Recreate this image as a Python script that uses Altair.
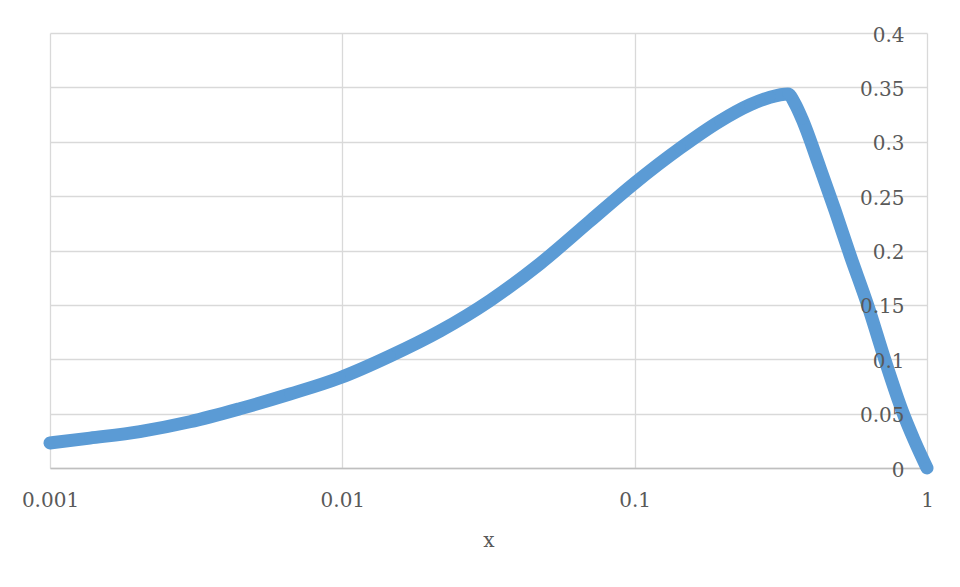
import altair as alt
import pandas as pd

# values
x_vals = [0.001, 0.00137, 0.00203, 0.00301, 0.00446, 0.00662, 0.00982, 0.01456, 0.02158,
          0.032, 0.0475, 0.0703, 0.1, 0.1429, 0.1958, 0.2481, 0.2904, 0.3345,
          0.3535, 0.3737, 0.4305, 0.4844, 0.5452, 0.6283, 0.7186, 0.8213, 0.9029, 1.0]
y_vals = [0.023, 0.0275, 0.0335, 0.0425, 0.0545, 0.068, 0.083, 0.103, 0.126,
          0.154, 0.188, 0.227, 0.262, 0.294, 0.319, 0.334, 0.341, 0.344,
          0.335, 0.321, 0.276, 0.237, 0.196, 0.149, 0.099, 0.053, 0.026, 0.0]
x_ticks = [0.001, 0.01, 0.1, 1]
y_ticks = [0, 0.05, 0.1, 0.15, 0.2, 0.25, 0.3, 0.35, 0.4]

df = pd.DataFrame({"x": x_vals, "y": y_vals})

FONT = "DejaVu Serif"
GRAY = "#595959"
BLUE = "#5b9bd5"
GRID = "#d9d9d9"

xs = alt.Scale(type="log", domain=[0.001, 1])
ys = alt.Scale(domain=[0, 0.4])

x_axis = alt.Axis(values=x_ticks, format="~g", grid=True, gridColor=GRID, gridWidth=1.3,
                  domainColor="#bfbfbf", domainWidth=1.3, ticks=False, labelPadding=22,
                  labelFont=FONT, labelFontSize=20, labelColor=GRAY, labelFlush=False,
                  titleFont=FONT, titleFontSize=20, titleFontWeight="normal",
                  titleColor=GRAY, titlePadding=20)

line = alt.Chart(df).mark_line(
    color=BLUE, strokeWidth=13, strokeCap="round", strokeJoin="round", interpolate="monotone"
).encode(
    x=alt.X("x:Q", scale=xs, title="x", axis=x_axis),
    y=alt.Y("y:Q", scale=ys, title=None,
            axis=alt.Axis(orient="left", values=y_ticks, grid=True, gridColor=GRID,
                          gridWidth=1.3, labels=False, ticks=False, domain=False, zindex=0)),
)

pts = alt.Chart(df).mark_circle(color=BLUE, opacity=1, size=133).encode(
    x=alt.X("x:Q", scale=xs, title="x", axis=x_axis),
    y=alt.Y("y:Q", scale=ys, title=None,
            axis=alt.Axis(orient="right", values=y_ticks, format="~g", grid=False,
                          ticks=False, domain=False, labelAlign="right", labelPadding=-23,
                          labelOffset=2, labelFont=FONT, labelFontSize=20,
                          labelColor=GRAY, zindex=1)),
)

chart = alt.layer(line, pts).resolve_axis(y="independent").properties(
    width=877, height=435,
    autosize=alt.AutoSizeParams(type="none"),
    padding={"left": 42, "top": 25, "right": 20, "bottom": 90},
).configure_view(stroke=None)

chart.save("out.html", embed_options={"renderer": "svg", "actions": False})
